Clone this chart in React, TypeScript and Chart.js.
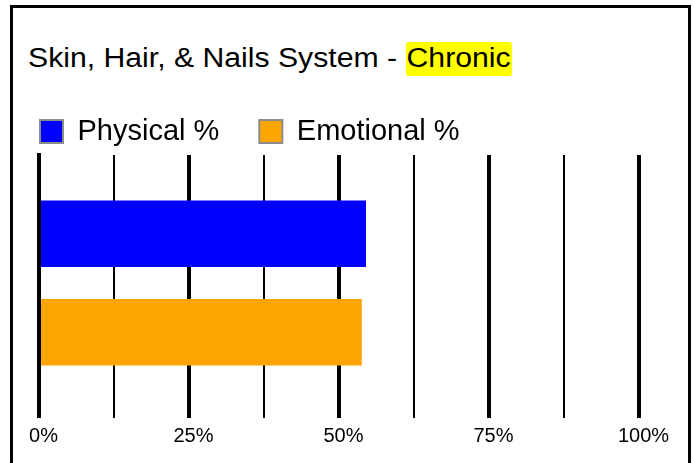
import React, { useEffect, useRef } from "react";
import { Chart, registerables } from "chart.js";

Chart.register(...registerables);

// Chart data
const categories = ["Skin, Hair, & Nails System"];
const seriesLabels = ["Physical %", "Emotional %"];
const physicalPct = [54.5];
const emotionalPct = [53.8];
const seriesColors = ["#0000ff", "#ffa500"];
const labeledTicks = [0, 25, 50, 75, 100];
const titleMain = "Skin, Hair, & Nails System - ";
const titleTag = "Chronic";

const FONT = "'Liberation Sans', Arial, Helvetica, sans-serif";

export default function App() {
  const canvasRef = useRef<HTMLCanvasElement>(null);

  useEffect(() => {
    const canvas = canvasRef.current;
    if (!canvas) return;
    const chart = new Chart(canvas, {
      type: "bar",
      data: {
        labels: categories,
        datasets: [
          {
            label: seriesLabels[0],
            data: physicalPct,
            backgroundColor: seriesColors[0],
            borderWidth: 0,
            categoryPercentage: 0.77,
            barPercentage: 0.675,
          },
          {
            label: seriesLabels[1],
            data: emotionalPct,
            backgroundColor: seriesColors[1],
            borderWidth: 0,
            categoryPercentage: 0.77,
            barPercentage: 0.675,
          },
        ],
      },
      options: {
        indexAxis: "y",
        responsive: false,
        maintainAspectRatio: false,
        animation: false,
        events: [],
        layout: { padding: { top: 77, right: 41, bottom: 0, left: 0 } },
        plugins: {
          title: { display: false },
          tooltip: { enabled: false },
          legend: {
            position: "top",
            align: "start",
            maxHeight: 78,
            labels: {
              boxWidth: 23,
              boxHeight: 23,
              padding: 40,
              color: "#000",
              font: { family: FONT, size: 29 },
              generateLabels: (c: any) =>
                Chart.defaults.plugins.legend.labels
                  .generateLabels(c)
                  .map((l: any) => ({ ...l, strokeStyle: "#8c8c8c", lineWidth: 2 })),
            },
          },
        },
        scales: {
          x: {
            type: "linear",
            min: 0,
            max: 100,
            border: { display: false },
            grid: {
              color: "#000",
              lineWidth: (ctx: any) =>
                ctx.tick && ctx.tick.value % 25 === 0 ? 4 : 2,
              drawTicks: true,
              tickLength: 7,
            },
            ticks: {
              stepSize: 12.5,
              autoSkip: false,
              maxRotation: 0,
              padding: 6,
              labelOffset: 4.5,
              color: "#000",
              font: { family: FONT, size: 20 },
              callback: (v: any) =>
                labeledTicks.includes(Number(v)) ? `${v}%` : "",
            },
            afterFit: (s: any) => {
              s.height = 52;
            },
          },
          y: {
            display: true,
            grid: { display: false },
            ticks: { display: false },
            border: { display: true, color: "#000", width: 4, z: 1 },
            afterFit: (s: any) => {
              s.width = 39;
            },
          },
        },
      },
    } as any);
    return () => chart.destroy();
  }, []);

  return (
    <div
      style={{
        position: "fixed",
        left: 0,
        top: 0,
        width: 695,
        height: 463,
        overflow: "hidden",
        background: "#fff",
      }}
    >
      <div
        style={{
          position: "absolute",
          left: 10,
          top: 5,
          width: 681,
          height: 480,
          border: "3px solid #000",
          boxSizing: "border-box",
        }}
      />
      <div
        style={{
          position: "absolute",
          left: 28,
          top: 44.5,
          fontFamily: FONT,
          fontSize: 27,
          lineHeight: "27px",
          color: "#000",
          whiteSpace: "nowrap",
          transform: "scaleX(1.118)",
          transformOrigin: "left top",
        }}
      >
        {titleMain}
        <span
          style={{
            background: "#ffff00",
            padding: "1px 1px 3px 1px",
            borderRadius: 3,
          }}
        >
          {titleTag}
        </span>
      </div>
      <canvas
        ref={canvasRef}
        width={680}
        height={463}
        style={{
          position: "absolute",
          left: 0,
          top: 0,
          width: 680,
          height: 463,
        }}
      />
    </div>
  );
}
